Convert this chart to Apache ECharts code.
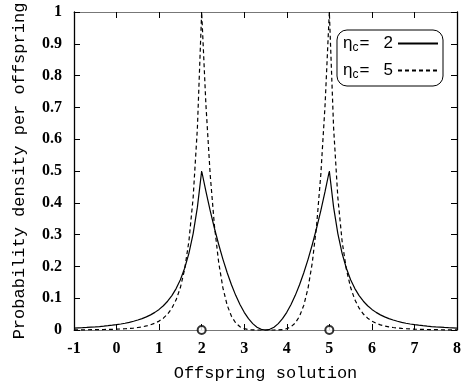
<!DOCTYPE html>
<html>
<head>
<meta charset="utf-8">
<script src="https://cdn.jsdelivr.net/npm/echarts@6/dist/echarts.min.js"></script>
<style>
  html, body { margin: 0; padding: 0; background: #fff; }
  #chart { width: 464px; height: 387px; }
</style>
</head>
<body>
<div id="chart"></div>
<script>
// offspring positions (x) and density
var xValues = [
  -1.0, -0.9, -0.8, -0.7, -0.6, -0.5, -0.4, -0.3, -0.2, -0.1,
  0.0, 0.1, 0.2, 0.3, 0.4, 0.5, 0.6, 0.7, 0.8, 0.9,
  1.0, 1.1, 1.2, 1.3, 1.4, 1.5, 1.6, 1.7, 1.8, 1.9,
  2.0, 2.1, 2.2, 2.3, 2.4, 2.5, 2.6, 2.7, 2.8, 2.9,
  3.0, 3.1, 3.2, 3.3, 3.4, 3.5, 3.6, 3.7, 3.8, 3.9,
  4.0, 4.1, 4.2, 4.3, 4.4, 4.5, 4.6, 4.7, 4.8, 4.9,
  5.0, 5.1, 5.2, 5.3, 5.4, 5.5, 5.6, 5.7, 5.8, 5.9,
  6.0, 6.1, 6.2, 6.3, 6.4, 6.5, 6.6, 6.7, 6.8, 6.9,
  7.0, 7.1, 7.2, 7.3, 7.4, 7.5, 7.6, 7.7, 7.8, 7.9,
  8.0
];
var eta2Values = [
  0.0062, 0.0068, 0.0074, 0.0081, 0.0090, 0.0099, 0.0109, 0.0121, 0.0135, 0.0151,
  0.0169, 0.0189, 0.0213, 0.0241, 0.0274, 0.0313, 0.0358, 0.0412, 0.0476, 0.0554,
  0.0648, 0.0763, 0.0905, 0.1081, 0.1302, 0.1582, 0.1942, 0.2411, 0.3031, 0.3862,
  0.5000, 0.4356, 0.3756, 0.3200, 0.2689, 0.2222, 0.1800, 0.1422, 0.1089, 0.0800,
  0.0556, 0.0356, 0.0200, 0.0089, 0.0022, 0.0000, 0.0022, 0.0089, 0.0200, 0.0356,
  0.0556, 0.0800, 0.1089, 0.1422, 0.1800, 0.2222, 0.2689, 0.3200, 0.3756, 0.4356,
  0.5000, 0.3862, 0.3031, 0.2411, 0.1942, 0.1582, 0.1302, 0.1081, 0.0905, 0.0763,
  0.0648, 0.0554, 0.0476, 0.0412, 0.0358, 0.0313, 0.0274, 0.0241, 0.0213, 0.0189,
  0.0169, 0.0151, 0.0135, 0.0121, 0.0109, 0.0099, 0.0090, 0.0081, 0.0074, 0.0068,
  0.0062
];
var eta5Values = [
  0.0005, 0.0005, 0.0006, 0.0007, 0.0009, 0.0010, 0.0013, 0.0015, 0.0018, 0.0022,
  0.0027, 0.0033, 0.0040, 0.0050, 0.0062, 0.0078, 0.0099, 0.0127, 0.0163, 0.0213,
  0.0280, 0.0373, 0.0502, 0.0685, 0.0949, 0.1335, 0.1911, 0.2791, 0.4164, 0.6365,
  1.0000, 0.7082, 0.4889, 0.3277, 0.2121, 0.1317, 0.0778, 0.0432, 0.0221, 0.0102,
  0.0041, 0.0013, 0.0003, 0.0000, 0.0000, 0.0000, 0.0000, 0.0000, 0.0003, 0.0013,
  0.0041, 0.0102, 0.0221, 0.0432, 0.0778, 0.1317, 0.2121, 0.3277, 0.4889, 0.7082,
  1.0000, 0.6365, 0.4164, 0.2791, 0.1911, 0.1335, 0.0949, 0.0685, 0.0502, 0.0373,
  0.0280, 0.0213, 0.0163, 0.0127, 0.0099, 0.0078, 0.0062, 0.0050, 0.0040, 0.0033,
  0.0027, 0.0022, 0.0018, 0.0015, 0.0013, 0.0010, 0.0009, 0.0007, 0.0006, 0.0005,
  0.0005
];
// parent solutions
var parentX = [2, 5];
var parentY = [0, 0];

var seriesNames = ['eta2', 'eta5'];
var legendLabels = {
  eta2: '{e|η}{s|c}{e|=   2}',
  eta5: '{e|η}{s|c}{e|=   5}'
};

function pairs(xs, ys) {
  return xs.map(function (x, i) { return [x, ys[i]]; });
}

var chart = echarts.init(document.getElementById('chart'));

var serif = 'Liberation Serif, "Times New Roman", serif';
var mono = 'Liberation Mono, "Courier New", monospace';

function frame(color, width) {
  return { show: true, onZero: false, lineStyle: { color: color, width: width } };
}
var ticks = { show: true, inside: true, length: 6, lineStyle: { color: '#000', width: 1 } };

chart.setOption({
  animation: false,
  grid: { left: 74, right: 6, top: 12, bottom: 51 },
  legend: {
    data: seriesNames,
    orient: 'vertical',
    right: 21,
    top: 30,
    align: 'right',
    itemWidth: 40,
    itemHeight: 12,
    itemGap: 8,
    padding: [5, 4, 5, 6],
    borderColor: '#000',
    borderWidth: 1,
    borderRadius: 10,
    itemStyle: { opacity: 0 },
    formatter: function (name) { return legendLabels[name]; },
    textStyle: {
      color: '#000',
      rich: {
        e: { fontFamily: 'Liberation Sans', fontSize: 17, color: '#000' },
        s: { fontFamily: 'Liberation Sans', fontSize: 12, color: '#000', padding: [9, 1, 0, 0] }
      }
    }
  },
  xAxis: [
    {
      type: 'value', min: -1, max: 8, interval: 1, position: 'bottom',
      name: 'Offspring solution', nameLocation: 'middle', nameGap: 35,
      nameTextStyle: { fontFamily: mono, fontSize: 17, color: '#000' },
      axisLine: frame('#777', 1.2), axisTick: ticks,
      axisLabel: { margin: 11, fontFamily: serif, fontWeight: 'bold', fontSize: 16, color: '#000' },
      splitLine: { show: false }
    },
    {
      type: 'value', min: -1, max: 8, interval: 1, position: 'top',
      axisLine: frame('#777', 1.2), axisTick: ticks, axisLabel: { show: false },
      splitLine: { show: false }
    }
  ],
  yAxis: [
    {
      type: 'value', min: 0, max: 1, interval: 0.1, position: 'left',
      name: 'Probability density per offspring', nameLocation: 'middle', nameGap: 46,
      nameTextStyle: { fontFamily: mono, fontSize: 17, color: '#000' },
      axisLine: frame('#000', 1.3), axisTick: ticks,
      axisLabel: { margin: 12, fontFamily: serif, fontWeight: 'bold', fontSize: 16, color: '#000' },
      splitLine: { show: false }
    },
    {
      type: 'value', min: 0, max: 1, interval: 0.1, position: 'right',
      axisLine: frame('#000', 1.3), axisTick: ticks, axisLabel: { show: false },
      splitLine: { show: false }
    }
  ],
  series: [
    {
      name: 'eta2',
      type: 'line',
      symbol: 'none',
      clip: false,
      data: pairs(xValues, eta2Values),
      lineStyle: { color: '#000', width: 1.2, type: 'solid' },
      itemStyle: { color: '#000' }
    },
    {
      name: 'eta5',
      type: 'line',
      symbol: 'none',
      clip: false,
      data: pairs(xValues, eta5Values),
      lineStyle: { color: '#000', width: 1.2, type: [4, 3] },
      itemStyle: { color: '#000' }
    },
    {
      name: 'parents',
      type: 'scatter',
      symbol: 'emptyCircle',
      symbolSize: 8,
      clip: false,
      data: pairs(parentX, parentY),
      itemStyle: { color: '#000', borderWidth: 1.2 },
      z: 5
    }
  ]
});
</script>
</body>
</html>
